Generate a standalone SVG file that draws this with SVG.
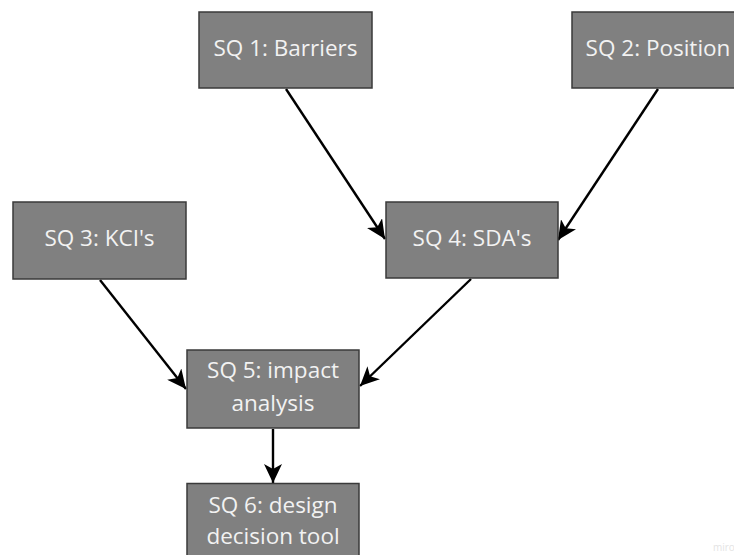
<svg xmlns="http://www.w3.org/2000/svg" width="734" height="555" viewBox="0 0 734 555">
  <style>
    .box { fill: #808080; stroke: #3a3a3a; stroke-width: 1.5; }
    .lbl { fill: #f2f2f2; font-family: "Open Sans", "Noto Sans", "DejaVu Sans", sans-serif; font-size: 22.5px; text-anchor: middle; }
    .edge { stroke: #000; stroke-width: 2.4; fill: none; marker-end: url(#head); }
    .mark { fill: #e4e4e4; font-family: "Open Sans", sans-serif; font-size: 10px; }
  </style>
  <defs>
    <marker id="head" markerUnits="userSpaceOnUse" markerWidth="20" markerHeight="18" viewBox="0 0 20 18" refX="19" refY="9" orient="auto">
      <path d="M0,0 L19,9 L0,18 L5,9 Z" fill="#000"/>
    </marker>
  </defs>
  <rect width="734" height="555" fill="#fff"/>

  <!-- connectors -->
  <g id="connectors">
    <line class="edge" x1="286" y1="89" x2="385" y2="239"/>
    <line class="edge" x1="658" y1="89" x2="558" y2="240"/>
    <line class="edge" x1="100" y1="280" x2="186" y2="389"/>
    <line class="edge" x1="471" y1="279" x2="360" y2="386"/>
    <line class="edge" x1="273" y1="429" x2="273" y2="483"/>
  </g>

  <g id="sq1">
    <rect class="box" x="199" y="12" width="173" height="76"/>
    <text class="lbl" x="285.5" y="56">SQ 1: Barriers</text>
  </g>
  <g id="sq2">
    <rect class="box" x="572" y="12" width="173" height="76"/>
    <text class="lbl" x="658" y="55.5">SQ 2: Position</text>
  </g>
  <g id="sq3">
    <rect class="box" x="13" y="202" width="173" height="77"/>
    <text class="lbl" x="99.5" y="246">SQ 3: KCI's</text>
  </g>
  <g id="sq4">
    <rect class="box" x="386" y="202" width="172" height="76"/>
    <text class="lbl" x="472" y="246">SQ 4: SDA's</text>
  </g>
  <g id="sq5">
    <rect class="box" x="187" y="350" width="172" height="78"/>
    <text class="lbl" x="273" y="377.5">SQ 5: impact</text>
    <text class="lbl" x="273" y="410.5">analysis</text>
  </g>
  <g id="sq6">
    <rect class="box" x="187" y="483.5" width="172" height="80"/>
    <text class="lbl" x="273" y="512.5">SQ 6: design</text>
    <text class="lbl" x="273" y="543.5">decision tool</text>
  </g>

  <text class="mark" x="713" y="551">miro</text>
</svg>
